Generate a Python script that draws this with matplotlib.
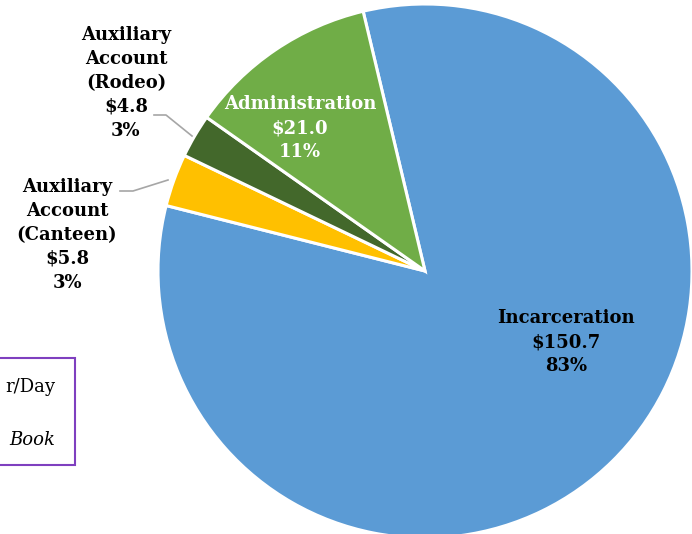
import matplotlib
matplotlib.use("Agg")
import matplotlib.pyplot as plt
from matplotlib.patches import Rectangle

categories = ["Incarceration", "Auxiliary\nAccount\n(Canteen)", "Auxiliary\nAccount\n(Rodeo)", "Administration"]
values = [150.7, 5.8, 4.8, 21.0]
percents = [83, 3, 3, 11]
colors = ["#5B9BD5", "#FFC000", "#43682B", "#70AD47"]

W, H = 692, 534
fig = plt.figure(figsize=(W / 100, H / 100), dpi=100)
ax = fig.add_axes([0, 0, 1, 1])

cx, cy, r = 425, H - 271, 267
ax.pie(values, colors=colors, startangle=103.4, counterclock=False,
       center=(cx, cy), radius=r, frame=True,
       wedgeprops=dict(edgecolor="white", linewidth=2.2))
ax.set_xlim(0, W)
ax.set_ylim(0, H)
ax.set_aspect("equal")
ax.axis("off")

font = dict(family="DejaVu Serif", fontweight="bold", fontsize=13,
            linespacing=1.42, ha="center", va="center")

def label(i):
    return f"{categories[i]}\n${values[i]:.1f}\n{percents[i]}%"

# in-slice labels
ax.text(566, H - 342, label(0), color="black", **font)
ax.text(300, H - 128, label(3), color="white", **font)
# outside labels with leader lines
ax.text(126, H - 83, label(2), color="black", **font)
ax.text(67, H - 235, label(1), color="black", **font)
ax.plot([154, 166, 192], [H - 115, H - 115, H - 136], color="#A6A6A6", lw=1.2)
ax.plot([120, 133, 168], [H - 191, H - 191, H - 180], color="#A6A6A6", lw=1.2)

# side note box
ax.add_patch(Rectangle((-5, H - 465), 80, 107, fill=False, edgecolor="#7F3FBF", lw=1.5))
ax.text(55, H - 387, "r/Day", family="DejaVu Serif", fontsize=13, ha="right", va="center")
ax.text(55, H - 440, "Book", family="DejaVu Serif", fontsize=13, style="italic",
        ha="right", va="center")

fig.savefig("out.png", dpi=100)
